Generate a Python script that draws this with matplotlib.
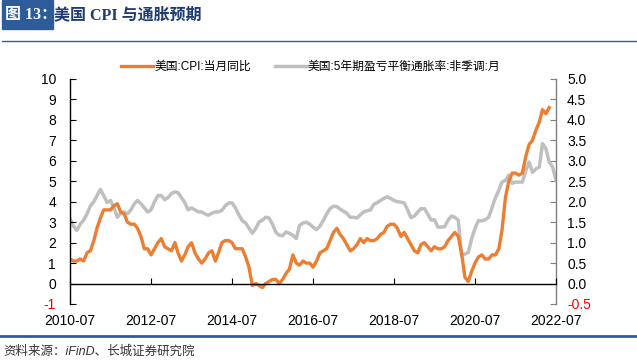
import numpy as np
import pandas as pd
import matplotlib
matplotlib.use('Agg')
import matplotlib.pyplot as plt
import matplotlib.dates as mdates
from matplotlib.patches import Rectangle
from matplotlib.lines import Line2D

plt.rcParams['font.family'] = ['Liberation Sans', 'Noto Sans CJK SC']
plt.rcParams['axes.unicode_minus'] = False

# US CPI YoY (%), monthly 2010-07 .. 2022-05
cpi = [1.2, 1.1, 1.1, 1.2, 1.1, 1.5,
       1.6, 2.1, 2.7, 3.2, 3.6, 3.6, 3.6, 3.8, 3.9, 3.5, 3.4, 3.0,
       2.9, 2.9, 2.7, 2.3, 1.7, 1.7, 1.4, 1.7, 2.0, 2.2, 1.8, 1.7,
       1.6, 2.0, 1.5, 1.1, 1.4, 1.8, 2.0, 1.5, 1.2, 1.0, 1.2, 1.5,
       1.6, 1.1, 1.5, 2.0, 2.1, 2.1, 2.0, 1.7, 1.7, 1.7, 1.3, 0.8,
       -0.1, 0.0, -0.1, -0.2, 0.0, 0.1, 0.2, 0.2, 0.0, 0.2, 0.5, 0.7,
       1.4, 1.0, 0.9, 1.1, 1.0, 1.0, 0.8, 1.1, 1.5, 1.6, 1.7, 2.1,
       2.5, 2.7, 2.4, 2.2, 1.9, 1.6, 1.7, 1.9, 2.2, 2.0, 2.2, 2.1,
       2.1, 2.2, 2.4, 2.5, 2.8, 2.9, 2.9, 2.7, 2.3, 2.5, 2.2, 1.9,
       1.6, 1.5, 1.9, 2.0, 1.8, 1.6, 1.8, 1.7, 1.7, 1.8, 2.1, 2.3,
       2.5, 2.3, 1.5, 0.3, 0.1, 0.6, 1.0, 1.3, 1.4, 1.2, 1.2, 1.4,
       1.4, 1.7, 2.6, 4.2, 5.0, 5.4, 5.4, 5.3, 5.4, 6.2, 6.8, 7.0,
       7.5, 7.9, 8.5, 8.3, 8.6]

# US 5y breakeven inflation (%), monthly 2010-07 .. 2022-07
bei = [1.59, 1.40, 1.30, 1.45, 1.55, 1.70,
       1.90, 2.00, 2.15, 2.30, 2.15, 1.98, 2.03, 1.85, 1.62, 1.72, 1.75, 1.70,
       1.80, 1.95, 2.03, 1.95, 1.85, 1.75, 1.80, 2.00, 2.15, 2.15, 2.05, 2.10,
       2.20, 2.24, 2.22, 2.10, 1.98, 1.80, 1.85, 1.80, 1.75, 1.75, 1.70, 1.67,
       1.72, 1.75, 1.75, 1.79, 1.90, 1.97, 1.97, 1.85, 1.68, 1.54, 1.48, 1.35,
       1.23, 1.35, 1.50, 1.55, 1.62, 1.60, 1.45, 1.25, 1.18, 1.17, 1.26, 1.23,
       1.18, 1.10, 1.42, 1.48, 1.50, 1.45, 1.38, 1.32, 1.40, 1.54, 1.70, 1.83,
       1.89, 1.88, 1.82, 1.77, 1.72, 1.62, 1.62, 1.60, 1.68, 1.75, 1.78, 1.80,
       1.94, 1.98, 2.03, 2.08, 2.12, 2.08, 2.03, 2.00, 1.99, 1.97, 1.80, 1.61,
       1.65, 1.75, 1.83, 1.83, 1.70, 1.55, 1.56, 1.38, 1.38, 1.39, 1.55, 1.65,
       1.62, 1.55, 0.70, 0.72, 0.76, 1.10, 1.35, 1.54, 1.53, 1.56, 1.62, 1.85,
       2.10, 2.28, 2.48, 2.52, 2.65, 2.45, 2.48, 2.48, 2.48, 2.75, 2.97, 2.72,
       2.80, 2.85, 3.42, 3.30, 2.97, 2.85, 2.52]

cpi_dates = pd.date_range('2010-07-01', periods=len(cpi), freq='MS')
bei_dates = pd.date_range('2010-07-01', periods=len(bei), freq='MS')
tick_years = list(range(2010, 2023, 2))

ORANGE = '#ED7D31'
GRAY = '#BFBFBF'
BLUE = '#2E5C9A'

fig = plt.figure(figsize=(6.37, 3.6), dpi=100)
ax = fig.add_axes([0.1099, 0.1556, 0.7629, 0.625])
ax2 = ax.twinx()
ax.set_zorder(ax2.get_zorder() + 1)
ax.patch.set_visible(False)

ax2.plot(bei_dates, bei, color=GRAY, lw=2.5, label='美国:5年期盈亏平衡通胀率:非季调:月')
ax.plot(cpi_dates, cpi, color=ORANGE, lw=2.4, label='美国:CPI:当月同比')

ax.set_xlim(pd.Timestamp('2010-07-01'), pd.Timestamp('2022-07-01'))
ax.set_ylim(-1, 10)
ax2.set_ylim(-0.5, 5)

ax.set_xticks([pd.Timestamp(f'{y}-07-01') for y in tick_years])
ax.xaxis.set_major_formatter(mdates.DateFormatter('%Y-%m'))
ax.set_yticks(range(-1, 11))
ax2.set_yticks(np.arange(-0.5, 5.01, 0.5))
ax2.set_yticklabels([f'{v:.1f}' for v in np.arange(-0.5, 5.01, 0.5)])

for a in (ax, ax2):
    a.spines['top'].set_visible(False)
ax.spines['right'].set_visible(False)
ax2.spines['left'].set_visible(False)
ax2.spines['bottom'].set_visible(False)
ax.spines['bottom'].set_position(('data', 0))
ax.spines['bottom'].set_linewidth(1.0)
ax.spines['left'].set_linewidth(1.0)
ax2.spines['right'].set_color('#7F7F7F')
ax2.spines['right'].set_linewidth(1.0)

ax.tick_params(axis='x', direction='in', length=4, pad=22, labelsize=10)
ax.tick_params(axis='y', direction='in', length=4, pad=10, labelsize=10)
ax2.tick_params(axis='y', direction='in', length=4, pad=8, labelsize=10,
                color='#7F7F7F')
ax.get_yticklabels()[0].set_color('red')
ax2.get_yticklabels()[0].set_color('red')

h1, l1 = ax.get_legend_handles_labels()
h2, l2 = ax2.get_legend_handles_labels()
fig.legend(h1 + h2, l1 + l2, loc='center', bbox_to_anchor=(0.488, 0.814),
           ncol=2, frameon=False, fontsize=8.5, handlelength=2.7,
           handletextpad=0.1, columnspacing=2.0)

# header
fig.patches.append(Rectangle((2 / 637, 1 - 29 / 360), 51 / 637, 29 / 360,
                             transform=fig.transFigure, color=BLUE))
fig.text(5 / 637, 1 - 15 / 360, '图 13：', color='white', fontsize=11.5,
         fontweight='bold', va='center', family=['Liberation Serif', 'Noto Sans CJK SC'])
fig.text(54 / 637, 1 - 15 / 360, '美国 CPI 与通胀预期', color='#1F3B75',
         fontsize=11.5, fontweight='bold', va='center',
         family=['Liberation Serif', 'Noto Sans CJK SC'])
fig.lines.append(Line2D([2 / 637, 1], [1 - 41 / 360] * 2, transform=fig.transFigure,
                        color=BLUE, lw=1.0))
fig.lines.append(Line2D([0, 1], [1 - 336 / 360] * 2, transform=fig.transFigure,
                        color=BLUE, lw=2.0))
fig.text(3 / 637, 1 - 352 / 360, '资料来源：iFinD、长城证券研究院', color='#333333',
         fontsize=9, va='center', style='italic')

fig.savefig('out.png', dpi=100)
